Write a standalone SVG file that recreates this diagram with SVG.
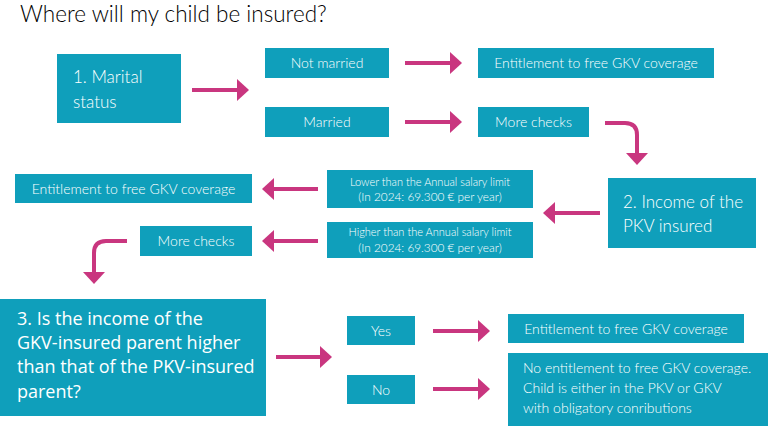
<svg xmlns="http://www.w3.org/2000/svg" width="768" height="426" viewBox="0 0 768 426">
<style>
.box{fill:#0f9fbb;}
.t{font-family:Lato,"Liberation Sans",sans-serif;fill:#ffffff;font-weight:300;}
.c{text-anchor:middle;}
.s14{font-size:14px;}
.s11{font-size:11px;}
.s12{font-size:11.8px;}
.s18{font-size:17px;}
.os{font-family:"Open Sans","Liberation Sans",sans-serif;fill:#ffffff;font-size:18px;font-weight:400;}
.arr{fill:none;stroke:#c9367f;stroke-width:4;marker-end:url(#ah);}
</style>
<defs>
<marker id="ah" markerUnits="userSpaceOnUse" markerWidth="13" markerHeight="22" refX="0" refY="11" orient="auto" viewBox="0 0 13 22">
<path d="M0,0 L12,11 L0,22 z" fill="#c9367f"/>
</marker>
</defs>
<rect width="768" height="426" fill="#ffffff"/>
<text x="20" y="22" font-family="Lato,'Liberation Sans',sans-serif" font-size="22.5" font-weight="300" fill="#000000">Where will my child be insured?</text>

<g id="n1"><rect class="box" x="57" y="54" width="124" height="69"/><text class="t s18" x="73" y="83">1. Marital</text><text class="t s18" x="73" y="108">status</text></g>
<g id="n-notmarried"><rect class="box" x="265" y="48" width="124" height="30"/><text class="t s14 c" x="327" y="68">Not married</text></g>
<g id="n-married"><rect class="box" x="265" y="107" width="124" height="30"/><text class="t s14 c" x="327" y="127">Married</text></g>
<g id="n-ent1"><rect class="box" x="478" y="48" width="236" height="30"/><text class="t s14 c" x="596" y="68">Entitlement to free GKV coverage</text></g>
<g id="n-more1"><rect class="box" x="478" y="107" width="111" height="30"/><text class="t s14 c" x="533.5" y="127">More checks</text></g>
<g id="n2"><rect class="box" x="608" y="178" width="148" height="70"/><text class="t s18" x="623" y="208">2. Income of the</text><text class="t s18" x="623" y="232">PKV insured</text></g>
<g id="n-lower"><rect class="box" x="327" y="170" width="206" height="38"/><text class="t s11 c" x="430" y="186">Lower than the Annual salary limit</text><text class="t s12 c" x="430" y="201">(In 2024: 69.300 € per year)</text></g>
<g id="n-higher"><rect class="box" x="327" y="222" width="206" height="36"/><text class="t s11 c" x="430" y="236">Higher than the Annual salary limit</text><text class="t s12 c" x="430" y="252">(In 2024: 69.300 € per year)</text></g>
<g id="n-ent2"><rect class="box" x="15" y="174" width="237" height="29"/><text class="t s14 c" x="133.5" y="194">Entitlement to free GKV coverage</text></g>
<g id="n-more2"><rect class="box" x="140" y="226" width="112" height="30"/><text class="t s14 c" x="196" y="246">More checks</text></g>
<g id="n3"><rect class="box" x="0" y="299" width="266" height="117"/><text class="os" x="17" y="325">3. Is the income of the</text><text class="os" x="17" y="349">GKV-insured parent higher</text><text class="os" x="17" y="373">than that of the PKV-insured</text><text class="os" x="17" y="398">parent?</text></g>
<g id="n-yes"><rect class="box" x="347" y="316" width="68" height="29"/><text class="t s14 c" x="381" y="336">Yes</text></g>
<g id="n-no"><rect class="box" x="347" y="375" width="68" height="29"/><text class="t s14 c" x="381" y="395">No</text></g>
<g id="n-ent3"><rect class="box" x="508" y="314" width="236" height="29"/><text class="t s14 c" x="626" y="334">Entitlement to free GKV coverage</text></g>
<g id="n-noent"><rect class="box" x="508" y="353" width="260" height="73"/><text class="t s14" x="523" y="373">No entitlement to free GKV coverage.</text><text class="t s14" x="523" y="393">Child is either in the PKV or GKV</text><text class="t s14" x="523" y="413">with obligatory conributions</text></g>

<g id="connectors">
<path class="arr" d="M192,90 H237"/>
<path class="arr" d="M405,63 H450"/>
<path class="arr" d="M405,122 H450"/>
<path class="arr" d="M605,123 H625 Q637,123 637,135 V153"/>
<path class="arr" d="M600,213 H555"/>
<path class="arr" d="M318,189 H274"/>
<path class="arr" d="M318,241 H274"/>
<path class="arr" d="M127,241 H106 Q94,241 94,253 V272"/>
<path class="arr" d="M276,357 H320"/>
<path class="arr" d="M433,331 H478"/>
<path class="arr" d="M433,389 H478"/>
</g>
</svg>
